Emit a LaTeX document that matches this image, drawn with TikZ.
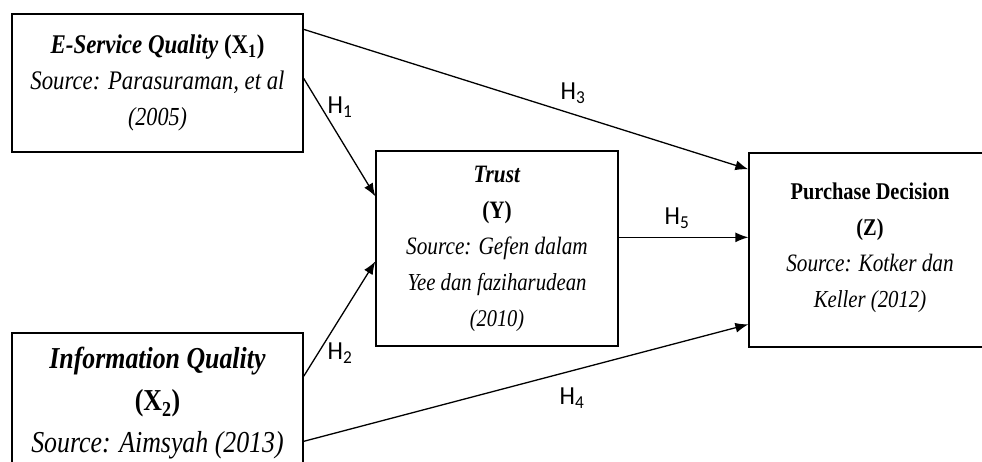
\documentclass[tikz,border=0pt]{standalone}
\usepackage{fontspec}
\setmainfont[FakeStretch=0.85]{Liberation Serif}
\newfontfamily\hypfont[FakeStretch=0.95]{Carlito}
\usetikzlibrary{arrows.meta,positioning,calc}
\newcommand{\fsz}[1]{\fontsize{#1}{36}\selectfont}

\begin{document}
\begin{tikzpicture}[x=1pt,y=-1pt]
			\tikzset{var box/.style={draw,line width=1.3pt,align=center,inner sep=0pt,font=\fsz{24}},
				hyp/.style={line width=1.3pt,-{Latex[length=13pt,width=10pt]}},
				hyp label/.style={font=\hypfont\fontsize{26}{26}\selectfont,inner sep=0pt}}
			\useasboundingbox (0,0) rectangle (982,462);
			\clip (0,0) rectangle (982,462);
			\node [var box, minimum width=291pt, minimum height=138pt] (X1) at (157.5,83)
				{\fsz{27}\textbf{\textit{E-Service Quality}} \textbf{(X\textsubscript{1})}\\
				 \fsz{26.8}\textit{Source: Parasuraman, et al}\\ \fsz{26}\textit{(2005)}};
			\node [var box, minimum width=291pt, minimum height=141pt, font=\fontsize{30.4}{42}\selectfont] (X2) at (157.5,403.5)
				{\textbf{\textit{Information Quality}}\\ \textbf{(X\textsubscript{2})}\\ \textit{Source: Aimsyah (2013)}};
			\node [var box, minimum width=242pt, minimum height=195pt] (Y) at (497,248.5)
				{\fsz{25}\textbf{\textit{Trust}}\\ \fsz{25}\textbf{(Y)}\\ \fsz{25}\textit{Source: Gefen dalam}\\
				 \fsz{24.4}\textit{Yee dan faziharudean}\\ \fsz{24}\textit{(2010)}};
			\node [var box, minimum width=250pt, minimum height=194pt] (Z) at (874,250) {};
			\node [align=center, font=\fsz{24}] (Ztext) at (870,248)
				{\fsz{24}\textbf{Purchase Decision}\\ \fsz{24}\textbf{(Z)}\\ \fsz{25}\textit{Source: Kotker dan}\\
				 \fsz{24.4}\textit{Keller (2012)}};
			% hypotheses
			\draw [hyp] ([yshift=-16pt]X1.north east) -- ([yshift=-17pt]Z.north west);
			\draw [hyp] ([yshift=-65pt]X1.north east) -- ([yshift=-46pt]Y.north west);
			\draw [hyp] ([yshift=-44pt]X2.north east) -- ([yshift=-111pt]Y.north west);
			\draw [hyp] ([yshift=-109pt]X2.north east) -- ([yshift=-172pt]Z.north west);
			\draw [hyp] ([yshift=-87pt]Y.north east) -- ([yshift=-85pt]Z.north west);
			\node [hyp label] (H1) at (340,107) {H\textsubscript{1}};
			\node [hyp label] (H2) at (340,353) {H\textsubscript{2}};
			\node [hyp label] (H3) at (573,93) {H\textsubscript{3}};
			\node [hyp label] (H4) at (572,398) {H\textsubscript{4}};
			\node [hyp label] (H5) at (677,218) {H\textsubscript{5}};
		\end{tikzpicture}
\end{document}
